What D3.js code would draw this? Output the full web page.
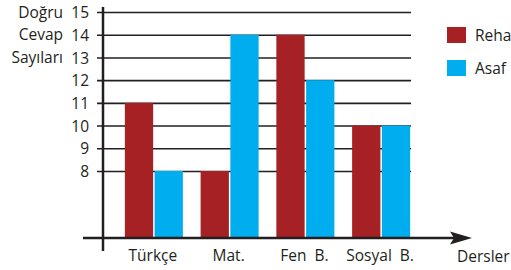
<!DOCTYPE html>
<html>
<head>
<meta charset="utf-8">
<script src="https://cdn.jsdelivr.net/npm/d3@7"></script>
<style>
  body { margin: 0; background: #fff; }
  svg { display: block; font-family: "Open Sans", sans-serif; }
  text { fill: #231f20; }
</style>
</head>
<body>
<svg id="chart" width="511" height="270"></svg>
<script>
// data
const categories = ["Türkçe", "Mat.", "Fen  B.", "Sosyal  B."];
const seriesNames = ["Reha", "Asaf"];
const reha = [11, 8, 14, 10];
const asaf = [8, 14, 12, 10];
const yTicks = [8, 9, 10, 11, 12, 13, 14, 15];
const yTitle = ["Doğru", "Cevap", "Sayıları"];
const xTitle = "Dersler";

const colors = ["#a52124", "#00aeef"];
const ink = "#231f20";
const fontSize = 15.5;

const svg = d3.select("#chart");
const axisX = 103, baseY = 238, gridRight = 411;

// y only covers 8..15, the axis is broken below 8
const y = d3.scaleLinear().domain([8, 15]).range([171, 12]);

const x = d3.scaleBand()
    .domain(categories)
    .range([116, 419])
    .paddingInner(0.234)
    .paddingOuter(0.117);

const xs = d3.scaleBand()
    .domain(seriesNames)
    .range([0, x.bandwidth()])
    .paddingInner(0.05);

// grid + tick labels
const yAxis = svg.append("g")
    .attr("transform", "translate(" + axisX + ",0)")
    .call(d3.axisLeft(y).tickValues(yTicks).tickSize(6).tickPadding(8).tickFormat(d3.format("d")));
yAxis.select(".domain").remove();
yAxis.selectAll(".tick line")
    .attr("x1", -6).attr("x2", gridRight - axisX)
    .attr("stroke", ink).attr("stroke-width", 1.6);
yAxis.selectAll(".tick text")
    .attr("font-size", fontSize).attr("font-family", "Open Sans, sans-serif")
    .attr("fill", ink).attr("dy", "0.36em");

// bars
const rows = categories.map((c, i) => ({cat: c, vals: [reha[i], asaf[i]]}));
svg.append("g").selectAll("g").data(rows).enter().append("g")
    .attr("transform", d => "translate(" + x(d.cat) + ",0)")
  .selectAll("rect").data(d => d.vals.map((v, j) => ({name: seriesNames[j], v: v, j: j}))).enter()
  .append("rect")
    .attr("x", d => xs(d.name))
    .attr("y", d => y(d.v))
    .attr("width", xs.bandwidth())
    .attr("height", d => baseY - y(d.v))
    .attr("fill", d => colors[d.j]);

// axes lines
svg.append("line")
    .attr("x1", axisX).attr("x2", axisX).attr("y1", 7).attr("y2", 251)
    .attr("stroke", ink).attr("stroke-width", 2.5);
svg.append("line")
    .attr("x1", 83).attr("x2", 455).attr("y1", baseY).attr("y2", baseY)
    .attr("stroke", ink).attr("stroke-width", 2.5);
svg.append("path")
    .attr("d", "M450," + (baseY - 6.5) + "L472," + baseY + "L450," + (baseY + 6.5) + "L454," + baseY + "Z")
    .attr("fill", ink);

// category labels
svg.append("g").selectAll("text").data(categories).enter().append("text")
    .attr("x", d => x(d) + x.bandwidth() / 2 - 1)
    .attr("y", 261)
    .attr("text-anchor", "middle")
    .attr("font-size", fontSize)
    .style("white-space", "pre")
    .text(d => d);

svg.append("text")
    .attr("x", 457).attr("y", 262)
    .attr("font-size", fontSize)
    .text(xTitle);

// y title
svg.append("g").selectAll("text").data(yTitle).enter().append("text")
    .attr("x", 63)
    .attr("y", (d, i) => y(yTicks[yTicks.length - 1 - i]) + 5.5)
    .attr("text-anchor", "end")
    .attr("font-size", fontSize)
    .text(d => d);

// legend
const leg = svg.append("g").selectAll("g").data(seriesNames).enter().append("g")
    .attr("transform", (d, i) => "translate(447," + (27 + i * 33) + ")");
leg.append("rect").attr("width", 19).attr("height", 16).attr("fill", (d, i) => colors[i]);
leg.append("text").attr("x", 28).attr("y", 8).attr("dy", "0.36em")
    .attr("font-size", fontSize).text(d => d);
</script>
</body>
</html>
